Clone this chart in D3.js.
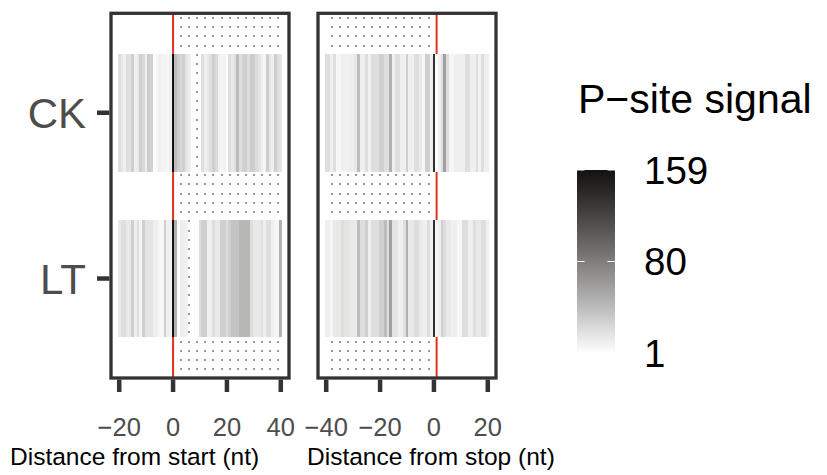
<!DOCTYPE html>
<html>
<head>
<meta charset="utf-8">
<script src="https://cdn.jsdelivr.net/npm/d3@7"></script>
<style>
  body { margin: 0; background: #fff; }
  text { font-family: "Liberation Sans", Arial, Helvetica, sans-serif; }
</style>
</head>
<body>
<div id="chart"></div>
<script>
// samples (rows) and the two panels
var samples = ["CK", "LT"];
var startPos = d3.range(-20, 41);
var stopPos = d3.range(-40, 21);

// P-site signal per nucleotide, null = no signal (tile missing)
var ckStart = [20,15,10,20,18,29,10,14,29,24,10,31,28,2,6,10,8,8,6,10,
  159,40,29,24,29,17,10,null,null,null,null,20,10,14,20,29,22,9,6,9,
  2,20,14,20,40,20,26,29,20,31,29,22,17,10,6,29,17,10,29,20,17];
var ltStart = [14,20,20,14,14,29,10,20,6,29,17,17,17,10,10,6,6,29,10,10,
  159,48,2,10,10,9,null,null,3,3,20,29,29,10,10,20,14,14,29,29,
  20,29,36,36,36,44,44,44,44,20,14,14,14,20,10,20,20,10,6,6,46];
var ckStop = [20,20,10,20,6,6,10,9,9,10,10,14,40,10,10,20,9,20,20,20,
  29,29,20,20,48,10,20,20,10,10,29,10,10,20,20,14,6,29,29,10,
  135,1,10,20,58,20,6,6,10,10,10,10,20,20,10,10,20,9,20,10,10];
var ltStop = [10,10,6,14,14,14,20,17,17,14,14,14,40,20,20,29,10,20,20,20,
  29,29,40,20,58,17,17,10,10,20,48,14,14,20,20,14,10,10,20,9,
  135,6,10,29,20,14,14,10,10,6,6,20,20,10,10,20,14,14,20,20,10];

var xTicksStart = [-20, 0, 20, 40];
var xTicksStop = [-40, -20, 0, 20];
var legendTicks = [1, 80, 159];
var signalRange = [1, 159];

var W = 827, H = 475;
var svg = d3.select("#chart").append("svg")
  .attr("width", W).attr("height", H);

var fill = d3.scaleLinear().domain(signalRange)
  .range(["#ffffff", "#141210"]).interpolate(d3.interpolateLab).clamp(true);

var y = d3.scaleLinear().domain([0.4, 2.6]).range([13.3, 378]);
var rowOf = { CK: 1, LT: 2 };

var panels = [
  { pos: startPos, rows: { CK: ckStart, LT: ltStart }, ticks: xTicksStart,
    x: d3.scaleLinear().domain([-23.05, 43.05]).range([111, 289]),
    line: 0, dots: d3.range(3, 40, 3), title: "Distance from start (nt)", titleX: 10 },
  { pos: stopPos, rows: { CK: ckStop, LT: ltStop }, ticks: xTicksStop,
    x: d3.scaleLinear().domain([-43.05, 23.05]).range([318, 496]),
    line: 1, dots: d3.range(-38, 0, 3), title: "Distance from stop (nt)", titleX: 307 }
];

var dotRows = d3.range(0.427, 2.56, 0.0558);

panels.forEach(function(p) {
  var g = svg.append("g");
  var x = p.x;

  // codon dot pattern in the coding region
  dotRows.forEach(function(r) {
    g.selectAll(null).data(p.dots).enter().append("rect")
      .attr("x", function(d) { return Math.round(x(d) - 1); })
      .attr("y", Math.round(y(r) - 1))
      .attr("width", 2).attr("height", 2)
      .attr("fill", "#9a9a9a")
      .attr("shape-rendering", "crispEdges");
  });

  // reference line
  g.append("line")
    .attr("x1", x(p.line)).attr("x2", x(p.line))
    .attr("y1", y(0.4)).attr("y2", y(2.6))
    .attr("stroke", "#e5301f").attr("stroke-width", 2);

  // tiles
  samples.forEach(function(s) {
    var vals = p.rows[s];
    var cells = p.pos.map(function(d, i) { return { pos: d, v: vals[i] }; })
      .filter(function(d) { return d.v != null; });
    g.selectAll(null).data(cells).enter().append("rect")
      .attr("x", function(d) { return x(d.pos - 0.5); })
      .attr("width", function(d) { return x(d.pos + 0.5) - x(d.pos - 0.5) + 0.3; })
      .attr("y", y(rowOf[s] - 0.355))
      .attr("height", y(rowOf[s] + 0.355) - y(rowOf[s] - 0.355))
      .attr("fill", function(d) { return fill(d.v); })
      .attr("shape-rendering", "crispEdges");
  });

  // border
  g.append("rect")
    .attr("x", x.range()[0]).attr("y", y(0.4))
    .attr("width", x.range()[1] - x.range()[0])
    .attr("height", y(2.6) - y(0.4))
    .attr("fill", "none").attr("stroke", "#333").attr("stroke-width", 3.3);

  // x axis
  g.selectAll(null).data(p.ticks).enter().append("line")
    .attr("x1", function(d) { return x(d); }).attr("x2", function(d) { return x(d); })
    .attr("y1", y(2.6) + 1.6).attr("y2", y(2.6) + 14)
    .attr("stroke", "#333").attr("stroke-width", 4.5);
  g.selectAll(null).data(p.ticks).enter().append("text")
    .attr("x", function(d) { return x(d); })
    .attr("y", 436)
    .attr("text-anchor", "middle")
    .attr("font-size", 25.5).attr("fill", "#4d4d4d")
    .text(function(d) { return d < 0 ? "\u2212" + Math.abs(d) : d; });
  g.append("text")
    .attr("x", p.titleX).attr("y", 465)
    .attr("font-size", 24.5).attr("fill", "#000")
    .text(p.title);
});

// y axis (left panel)
var left = panels[0].x.range()[0];
samples.forEach(function(s) {
  svg.append("line")
    .attr("x1", left - 14).attr("x2", left - 1.6)
    .attr("y1", y(rowOf[s])).attr("y2", y(rowOf[s]))
    .attr("stroke", "#333").attr("stroke-width", 4.5);
  svg.append("text")
    .attr("x", left - 25).attr("y", y(rowOf[s]))
    .attr("dy", "0.36em").attr("text-anchor", "end")
    .attr("font-size", 42).attr("fill", "#4d4d4d")
    .text(s);
});

// legend
var lg = svg.append("g");
lg.append("text").attr("x", 578).attr("y", 113)
  .attr("font-size", 41).attr("fill", "#000").text("P\u2212site signal");

var ly = d3.scaleLinear().domain(signalRange).range([353, 170]);
var grad = svg.append("defs").append("linearGradient")
  .attr("id", "lgrad").attr("x1", 0).attr("x2", 0).attr("y1", 1).attr("y2", 0);
d3.range(0, 1.0001, 0.05).forEach(function(t) {
  grad.append("stop").attr("offset", t)
    .attr("stop-color", fill(signalRange[0] + t * (signalRange[1] - signalRange[0])));
});
lg.append("rect").attr("x", 577).attr("y", ly(159))
  .attr("width", 38).attr("height", ly(1) - ly(159))
  .attr("fill", "url(#lgrad)");
legendTicks.forEach(function(v) {
  [[577, 584.5], [607.5, 615]].forEach(function(e) {
    lg.append("line").attr("x1", e[0]).attr("x2", e[1])
      .attr("y1", ly(v)).attr("y2", ly(v))
      .attr("stroke", "#fff").attr("stroke-width", 1);
  });
  lg.append("text").attr("x", 644).attr("y", ly(v))
    .attr("dy", "0.36em").attr("font-size", 38.5).attr("fill", "#000")
    .text(v);
});
</script>
</body>
</html>
